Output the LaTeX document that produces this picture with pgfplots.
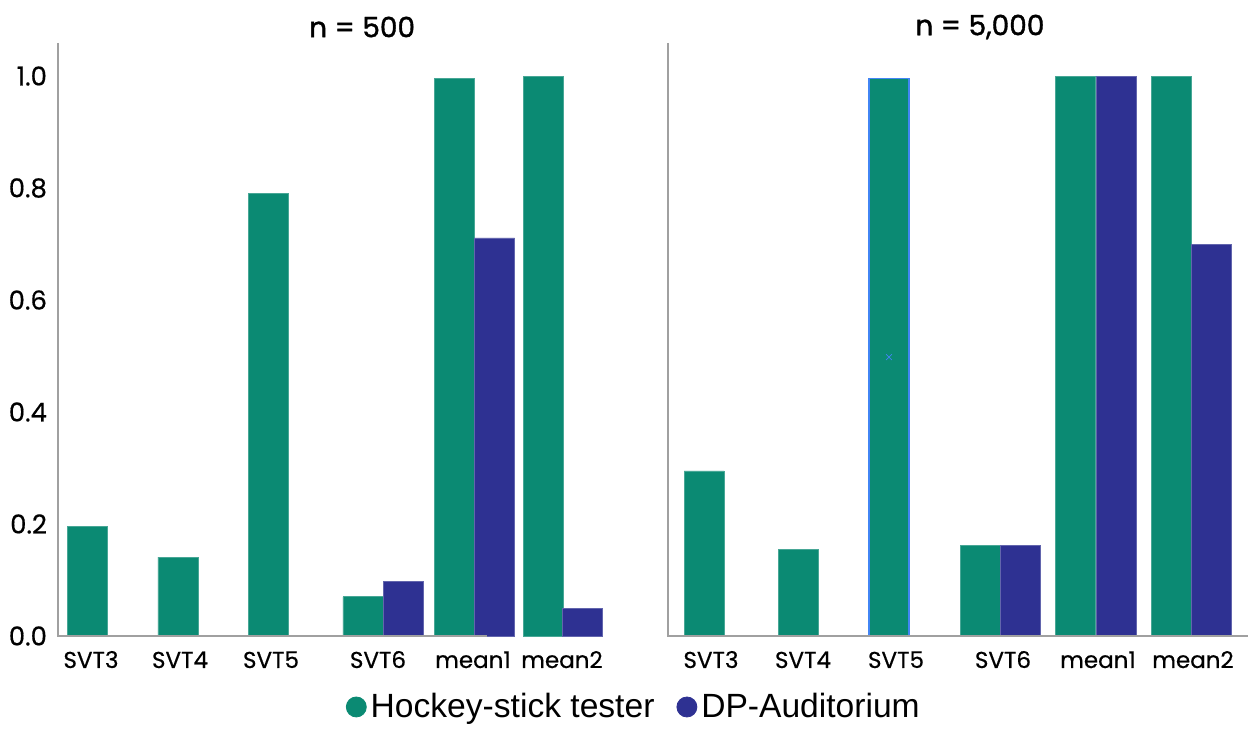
\documentclass[border=0pt]{standalone}
\usepackage{pgfplots}
\pgfplotsset{compat=1.18}
\usepackage{fontspec}
\setmainfont{Poppins}
\newfontfamily\tickfont{Poppins}[FakeBold=0.5]
\newfontfamily\titlefont{Poppins}[FakeBold=1.3]
\newfontfamily\legendfont{Liberation Sans}

\definecolor{hsgreen}{RGB}{11,138,115}
\definecolor{dpblue}{RGB}{46,49,146}
\definecolor{axisgray}{RGB}{160,160,160}
\definecolor{selblue}{RGB}{66,133,244}

\pgfplotsset{
  panel/.style={
    scale only axis,
    anchor=south west,
    height=296.5pt,
    ymin=0, ymax=1.059,
    axis line style={draw=none},
    major tick length=0pt,
    clip=false,
    xticklabel style={font=\tickfont\fontsize{11.5}{13}\selectfont, anchor=base, yshift=-16pt},
    yticklabel style={font=\tickfont\fontsize{13}{15}\selectfont, anchor=east, xshift=-2pt},
    /pgf/number format/.cd, fixed, fixed zerofill, precision=1, assume math mode=true,
  },
  greenbar/.style={ybar, bar width=40, bar shift=0pt, fill=hsgreen, draw=hsgreen!75!white, line width=0.3pt, forget plot},
  bluebar/.style={ybar, bar width=40, bar shift=0pt, fill=dpblue, draw=dpblue!75!white, line width=0.3pt, forget plot},
  title style={font=\titlefont\fontsize{14}{16}\selectfont, anchor=center},
}

\begin{document}
\begin{tikzpicture}[x=1pt,y=1pt]
\useasboundingbox (0,0) rectangle (625,367);

% n = 500
\begin{axis}[panel,
  at={(29pt,49pt)}, width=276pt,
  xmin=58, xmax=610,
  ytick={0,0.2,0.4,0.6,0.8,1.0},
  xtick={91,180,271,378,473,562},
  xticklabels={SVT3,SVT4,SVT5,SVT6,mean1,mean2},
  title={n = 500},
  title style={at={(0.551,1)}, yshift=2pt},
  legend style={at={(1.045,-0.1197)}, anchor=center, draw=none, fill=none,
    legend columns=2, font=\legendfont\fontsize{16.8}{19}\selectfont,
    /tikz/every even column/.append style={column sep=9pt}},
]
\addlegendimage{legend image code/.code={\fill[hsgreen] (0pt,0pt) circle (5pt);}}
\addlegendentry{Hockey-stick tester}
\addlegendimage{legend image code/.code={\fill[dpblue] (0pt,0pt) circle (5pt);}}
\addlegendentry{DP-Auditorium}

\addplot[greenbar] coordinates {
  (87.5,0.196) (178,0.141) (268.5,0.791) (363,0.070) (454,0.996) (543,1.000)};
\addplot[bluebar] coordinates {
  (403.5,0.098) (494.5,0.711) (582,0.049)};

\draw[axisgray, line width=0.75pt] (axis cs:58,1.059) -- (axis cs:58,0) -- (axis cs:487,0);
\end{axis}

% n = 5,000
\begin{axis}[panel,
  at={(334pt,49pt)}, width=291pt,
  xmin=668, xmax=1250,
  ytick=\empty,
  xtick={711,803,896,1003,1098,1193},
  xticklabels={SVT3,SVT4,SVT5,SVT6,mean1,mean2},
  title={n = 5,000},
  title style={at={(0.536,1)}, yshift=2pt},
]
\addplot[greenbar] coordinates {
  (704,0.295) (798,0.155) (980,0.1625) (1075,1.000) (1171,1.000)};
\addplot[greenbar, draw=selblue, line width=0.75pt] coordinates {(889,0.996)};
\addplot[only marks, mark=x, mark size=2pt, selblue, forget plot] coordinates {(889,0.498)};
\addplot[bluebar] coordinates {
  (1020.5,0.1625) (1116,1.000) (1211.5,0.700)};

\draw[axisgray, line width=0.75pt] (axis cs:668,1.059) -- (axis cs:668,0) -- (axis cs:1248,0);
\end{axis}
\end{tikzpicture}
\end{document}
